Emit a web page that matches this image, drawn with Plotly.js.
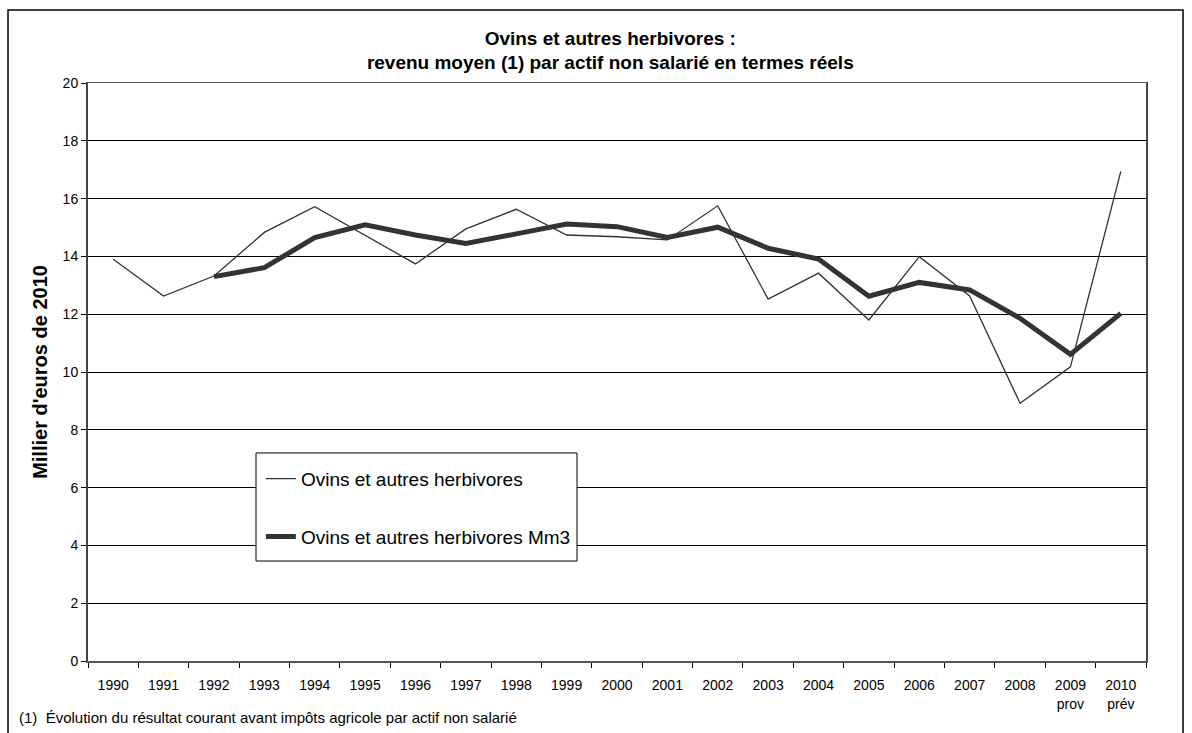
<!DOCTYPE html>
<html>
<head>
<meta charset="utf-8">
<script src="https://cdn.plot.ly/plotly-3.0.1.min.js"></script>
<style>html,body{margin:0;padding:0;background:#fff;}#chart{width:1192px;height:733px;}</style>
</head>
<body>
<div id="chart"></div>
<script>
const categories = ['1990','1991','1992','1993','1994','1995','1996','1997','1998','1999','2000','2001','2002','2003','2004','2005','2006','2007','2008','2009','2010'];
const tickLabels = ['1990','1991','1992','1993','1994','1995','1996','1997','1998','1999','2000','2001','2002','2003','2004','2005','2006','2007','2008','2009<br>prov','2010<br>prév'];
const ovins = [13.9, 12.63, 13.32, 14.83, 15.72, 14.74, 13.74, 14.95, 15.63, 14.74, 14.68, 14.57, 15.75, 12.52, 13.42, 11.80, 13.99, 12.63, 8.92, 10.18, 16.94];
const ovinsMm3 = [null, null, 13.3, 13.61, 14.65, 15.09, 14.74, 14.45, 14.78, 15.12, 15.03, 14.66, 15.01, 14.28, 13.91, 12.62, 13.10, 12.84, 11.86, 10.61, 12.03];
const seriesNames = ['Ovins et autres herbivores', 'Ovins et autres herbivores Mm3'];
const chartTitle = 'Ovins et autres herbivores :<br>revenu moyen (1) par actif non salarié en termes réels';
const yTitle = "Millier d'euros de 2010";
const footnote = '(1)  Évolution du résultat courant avant impôts agricole par actif non salarié';

const font = 'Liberation Sans, Arial, sans-serif';
const traces = [
  {x: categories, y: ovins, name: seriesNames[0], type: 'scatter', mode: 'lines',
   line: {color: '#333333', width: 1.3}, legendgroup: 'a'},
  {x: categories, y: ovinsMm3, name: seriesNames[1], type: 'scatter', mode: 'lines',
   line: {color: '#333333', width: 5}, legendgroup: 'b', connectgaps: false}
];
const layout = {
  width: 1192, height: 733,
  margin: {l: 88, r: 46, t: 83, b: 72},
  paper_bgcolor: '#ffffff', plot_bgcolor: '#ffffff',
  font: {family: font, size: 14, color: '#000'},
  title: {text: '<b>' + chartTitle + '</b>', font: {family: font, size: 19, color: '#000'},
          x: 0.512, xanchor: 'center', y: 0.939, yanchor: 'middle', xref: 'container', yref: 'container'},
  xaxis: {type: 'category', tickvals: categories, ticktext: tickLabels,
          tickson: 'boundaries', ticks: 'outside', ticklen: 5, tickcolor: '#000',
          showgrid: false, showline: true, linecolor: '#555', linewidth: 1.5, mirror: true,
          zeroline: false, tickfont: {family: font, size: 14}, ticklabelstandoff: 11,
          range: [-0.5, 20.5], fixedrange: true},
  yaxis: {range: [0, 20], dtick: 2, ticks: 'outside', ticklen: 5, tickcolor: '#000',
          showgrid: true, gridcolor: '#000', gridwidth: 1,
          showline: true, linecolor: '#444', linewidth: 2, mirror: true, zeroline: false,
          tickfont: {family: font, size: 14},
          title: {text: '<b>' + yTitle + '</b>', font: {family: font, size: 20}, standoff: 10}},
  legend: {x: 0.1634, y: 0.348, xanchor: 'left', yanchor: 'top', bgcolor: 'rgba(0,0,0,0)',
           borderwidth: 0, font: {family: font, size: 19},
           traceorder: 'grouped', tracegroupgap: 30, itemwidth: 30},
  showlegend: true,
  shapes: [
    {type: 'rect', xref: 'paper', yref: 'paper', x0: -0.0756, x1: 1.035, y0: -0.2, y1: 1.1263,
     line: {color: '#000', width: 1.5}, fillcolor: 'rgba(0,0,0,0)', layer: 'below'},
    {type: 'rect', xref: 'paper', yref: 'paper', x0: 0.1588, x1: 0.4622, y0: 0.173, y1: 0.3599,
     line: {color: '#000', width: 1}, fillcolor: '#ffffff', layer: 'above'}
  ],
  annotations: [{text: footnote, xref: 'paper', yref: 'paper', x: -0.0671, y: -0.0986,
                 xanchor: 'left', yanchor: 'middle', showarrow: false, font: {family: font, size: 15}}]
};
Plotly.newPlot('chart', traces, layout, {displayModeBar: false, staticPlot: true});
</script>
</body>
</html>
